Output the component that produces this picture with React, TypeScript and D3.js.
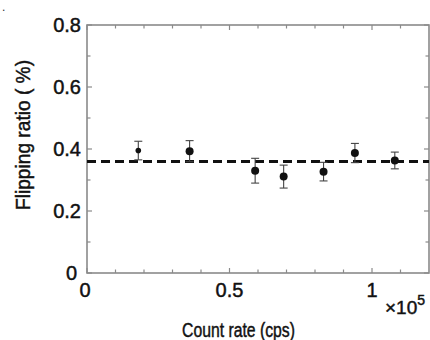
import React, { useEffect, useRef } from 'react';
import * as d3 from 'd3';

// count rate in units of 1e5 cps
const countRate = [0.18, 0.36, 0.59, 0.69, 0.83, 0.94, 1.08];
// flipping ratio (%)
const flipRatio = [0.395, 0.393, 0.33, 0.311, 0.327, 0.387, 0.363];
const flipError = [0.03, 0.034, 0.04, 0.037, 0.03, 0.031, 0.027];
const meanRatio = 0.36;

const xMajor = [0, 0.5, 1];
const xMinor = [0.1, 0.2, 0.3, 0.4, 0.6, 0.7, 0.8, 0.9, 1.1];
const yMajor = [0, 0.2, 0.4, 0.6, 0.8];
const yMinor = [0.1, 0.3, 0.5, 0.7];

const xLabels = ['0', '0.5', '1'];
const yLabels = ['0', '0.2', '0.4', '0.6', '0.8'];

const W = 430;
const H = 340;
const FONT = '"Liberation Sans", Arial, Helvetica, sans-serif';

export default function App() {
    const ref = useRef<SVGSVGElement | null>(null);

    useEffect(() => {
        const svg = d3.select(ref.current);
        svg.selectAll('*').remove();

        const left = 87, right = 429, top = 25, bottom = 273;

        const x = d3.scaleLinear().domain([0, 1.2]).range([left, right]);
        const y = d3.scaleLinear().domain([0, 0.8]).range([bottom, top]);

        const data = countRate.map((c, i) => ({ x: c, y: flipRatio[i], e: flipError[i] }));

        const frame = '#8a8a8a';
        const ink = '#111';

        // frame
        svg.append('rect')
            .attr('x', left)
            .attr('y', top)
            .attr('width', right - left)
            .attr('height', bottom - top)
            .attr('fill', 'none')
            .attr('stroke', frame)
            .attr('stroke-width', 1.6);

        // ticks, all pointing inward, on four sides
        const g = svg.append('g').attr('stroke', frame).attr('stroke-width', 1.2);
        const xTicks = [...xMajor.map(v => ({ v, len: 5 })), ...xMinor.map(v => ({ v, len: 3.5 }))];
        const yTicks = [...yMajor.map(v => ({ v, len: 5 })), ...yMinor.map(v => ({ v, len: 3.5 }))];

        xTicks.forEach(t => {
            g.append('line').attr('x1', x(t.v)).attr('x2', x(t.v)).attr('y1', bottom).attr('y2', bottom - t.len);
            g.append('line').attr('x1', x(t.v)).attr('x2', x(t.v)).attr('y1', top).attr('y2', top + t.len);
        });
        yTicks.forEach(t => {
            g.append('line').attr('y1', y(t.v)).attr('y2', y(t.v)).attr('x1', left).attr('x2', left + t.len);
            g.append('line').attr('y1', y(t.v)).attr('y2', y(t.v)).attr('x1', right).attr('x2', right - t.len);
        });

        const txt = (sel: any, size: number) => sel
            .attr('font-family', FONT)
            .attr('font-size', size)
            .attr('fill', ink)
            .attr('stroke', ink)
            .attr('stroke-width', 0.45);

        // tick labels
        txt(svg.append('g')
            .selectAll('text')
            .data(xMajor)
            .enter()
            .append('text')
            .attr('x', (d, i) => x(d) - (i === 0 ? 2 : 0))
            .attr('y', bottom + 24)
            .attr('text-anchor', 'middle'), 20)
            .text((d, i) => xLabels[i]);

        txt(svg.append('g')
            .selectAll('text')
            .data(yMajor)
            .enter()
            .append('text')
            .attr('x', (d, i) => left - (i === 0 ? 10 : 6))
            .attr('y', d => y(d))
            .attr('dy', '0.34em')
            .attr('text-anchor', 'end'), 20)
            .text((d, i) => yLabels[i]);

        // x10^5 multiplier
        const mult = txt(svg.append('text')
            .attr('x', 385)
            .attr('y', 314), 19);
        mult.append('tspan').text('×10');
        mult.append('tspan').attr('dy', -9).attr('font-size', 14).text('5');

        // axis titles
        txt(svg.append('text')
            .attr('x', 238.5)
            .attr('y', 337)
            .attr('text-anchor', 'middle')
            .attr('textLength', 113)
            .attr('lengthAdjust', 'spacingAndGlyphs'), 20)
            .text('Count rate (cps)');

        txt(svg.append('text')
            .attr('transform', 'translate(30,135) rotate(-90)')
            .attr('text-anchor', 'middle')
            .attr('textLength', 150)
            .attr('lengthAdjust', 'spacingAndGlyphs'), 20)
            .text('Flipping ratio ( %)');

        svg.append('text')
            .attr('x', 2)
            .attr('y', 11)
            .attr('font-family', FONT)
            .attr('font-size', 12)
            .attr('fill', '#333')
            .text('.');

        // mean line
        svg.append('line')
            .attr('x1', x(0))
            .attr('x2', right)
            .attr('y1', y(meanRatio))
            .attr('y2', y(meanRatio))
            .attr('stroke', ink)
            .attr('stroke-width', 3)
            .attr('stroke-dasharray', '9,5');

        // error bars
        const eb = svg.append('g').attr('stroke', '#444').attr('stroke-width', 1.1);
        data.forEach(d => {
            eb.append('line').attr('x1', x(d.x)).attr('x2', x(d.x)).attr('y1', y(d.y - d.e)).attr('y2', y(d.y + d.e));
            eb.append('line').attr('x1', x(d.x) - 4).attr('x2', x(d.x) + 4).attr('y1', y(d.y - d.e)).attr('y2', y(d.y - d.e));
            eb.append('line').attr('x1', x(d.x) - 4).attr('x2', x(d.x) + 4).attr('y1', y(d.y + d.e)).attr('y2', y(d.y + d.e));
        });

        // points
        svg.append('g')
            .selectAll('circle')
            .data(data)
            .enter()
            .append('circle')
            .attr('cx', d => x(d.x))
            .attr('cy', d => y(d.y))
            .attr('r', (d, i) => (i === 0 ? 2.8 : 4))
            .attr('fill', ink);
    }, []);

    return (
        <svg
            ref={ref}
            width={W}
            height={H}
            style={{ position: 'absolute', left: 0, top: 0, background: '#fff' }}
        />
    );
}
